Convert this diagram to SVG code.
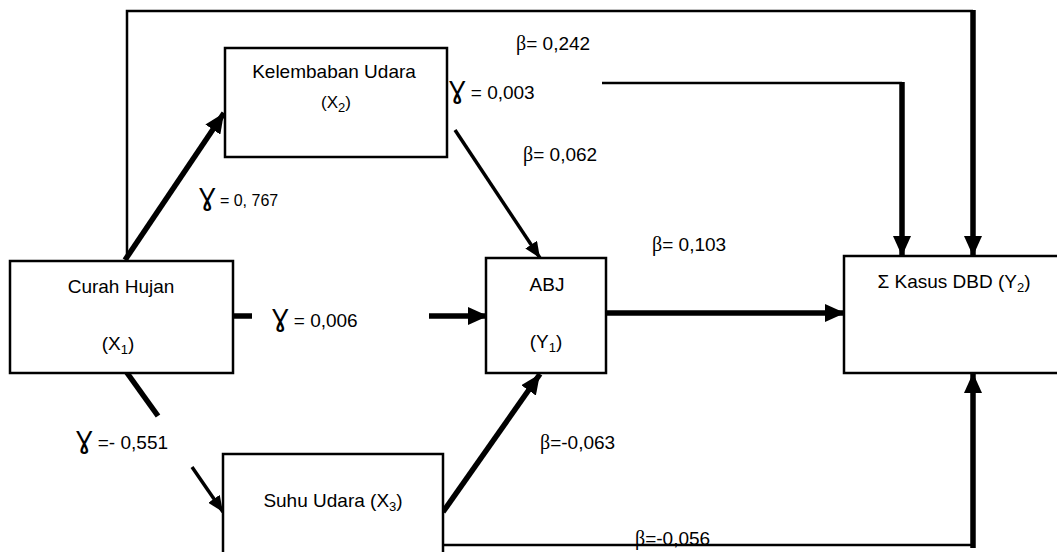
<svg xmlns="http://www.w3.org/2000/svg" width="1057" height="552" viewBox="0 0 1057 552">
<style>
text{font-family:"Liberation Sans",Arial,sans-serif;font-size:19px;fill:#000}
.box{fill:#fff;stroke:#000;stroke-width:2.5}
.thin{fill:none;stroke:#000;stroke-width:2.5}
.mid{fill:none;stroke:#000;stroke-width:3.5}
.thick{fill:none;stroke:#000;stroke-width:5.5}
.g{font-family:"DejaVu Sans",sans-serif;font-size:24px}
.b{font-family:"Liberation Serif",serif;font-size:20px}
.sub{font-size:13px}
</style>
<defs>
<marker id="ah" markerUnits="userSpaceOnUse" markerWidth="20" markerHeight="18" refX="20" refY="9" orient="auto"><path d="M0,0 L20,9 L0,18 z" fill="#000"/></marker>
<marker id="as" markerUnits="userSpaceOnUse" markerWidth="16" markerHeight="14" refX="16" refY="7" orient="auto"><path d="M0,0 L16,7 L0,14 z" fill="#000"/></marker>
</defs>
<g id="connectors">
<polyline class="thin" points="127,261 127,11 973,11"/>
<line class="thick" x1="973" y1="10" x2="973" y2="256" marker-end="url(#ah)"/>
<line class="thin" x1="602" y1="83" x2="902" y2="83"/>
<line class="thick" x1="902" y1="82" x2="902" y2="256" marker-end="url(#ah)"/>
<line class="thick" x1="125" y1="260" x2="224" y2="113" marker-end="url(#ah)"/>
<line class="mid" x1="455" y1="130" x2="540" y2="258" marker-end="url(#as)"/>
<line class="thick" x1="230" y1="316" x2="252" y2="316"/>
<line class="thick" x1="429" y1="316" x2="488" y2="316" marker-end="url(#ah)"/>
<line class="thick" x1="606" y1="313" x2="845" y2="313" marker-end="url(#ah)"/>
<line class="thick" x1="125" y1="370" x2="158" y2="416"/>
<line class="mid" x1="192" y1="467" x2="223" y2="512" marker-end="url(#as)"/>
<line class="thick" x1="443" y1="512" x2="540" y2="374" marker-end="url(#ah)"/>
<line class="thin" x1="443" y1="545" x2="973" y2="545"/>
<line class="thick" x1="973" y1="548" x2="973" y2="373" marker-end="url(#ah)"/>
</g>
<g id="curah">
<rect class="box" x="10" y="261" width="223" height="112"/>
<text x="121" y="293" text-anchor="middle">Curah Hujan</text>
<text x="118" y="350" text-anchor="middle">(X<tspan class="sub" dy="4">1</tspan><tspan dy="-4">)</tspan></text>
</g>
<g id="kelembaban">
<rect class="box" x="225" y="48" width="222" height="109"/>
<text x="334" y="78" text-anchor="middle">Kelembaban Udara</text>
<text x="336" y="108" text-anchor="middle" style="font-size:17px">(X<tspan class="sub" dy="4">2</tspan><tspan dy="-4">)</tspan></text>
</g>
<g id="abj">
<rect class="box" x="486" y="258" width="120" height="115"/>
<text x="547" y="291" text-anchor="middle">ABJ</text>
<text x="546" y="348" text-anchor="middle">(Y<tspan class="sub" dy="4">1</tspan><tspan dy="-4">)</tspan></text>
</g>
<g id="kasus">
<rect class="box" x="844" y="256" width="230" height="117"/>
<text x="954" y="288" text-anchor="middle">Σ Kasus DBD (Y<tspan class="sub" dy="4">2</tspan><tspan dy="-4">)</tspan></text>
</g>
<g id="suhu">
<rect class="box" x="223" y="454" width="220" height="110"/>
<text x="333" y="507" text-anchor="middle">Suhu Udara (X<tspan class="sub" dy="4">3</tspan><tspan dy="-4">)</tspan></text>
</g>
<g id="labels">
<text x="516" y="50"><tspan class="b">β</tspan>= 0,242</text>
<text x="449" y="99"><tspan class="g">Ɣ</tspan> = 0,003</text>
<text x="523" y="161"><tspan class="b">β</tspan>= 0,062</text>
<text x="199" y="206"><tspan class="g">Ɣ</tspan><tspan style="font-size:16px"> = 0, 767</tspan></text>
<text x="652" y="251"><tspan class="b">β</tspan>= 0,103</text>
<text x="272" y="327"><tspan class="g">Ɣ</tspan> = 0,006</text>
<text x="76" y="449"><tspan class="g">Ɣ</tspan> =- 0,551</text>
<text x="540" y="449"><tspan class="b">β</tspan>=-0,063</text>
<text x="635" y="545"><tspan class="b">β</tspan>=-0,056</text>
</g>
</svg>
